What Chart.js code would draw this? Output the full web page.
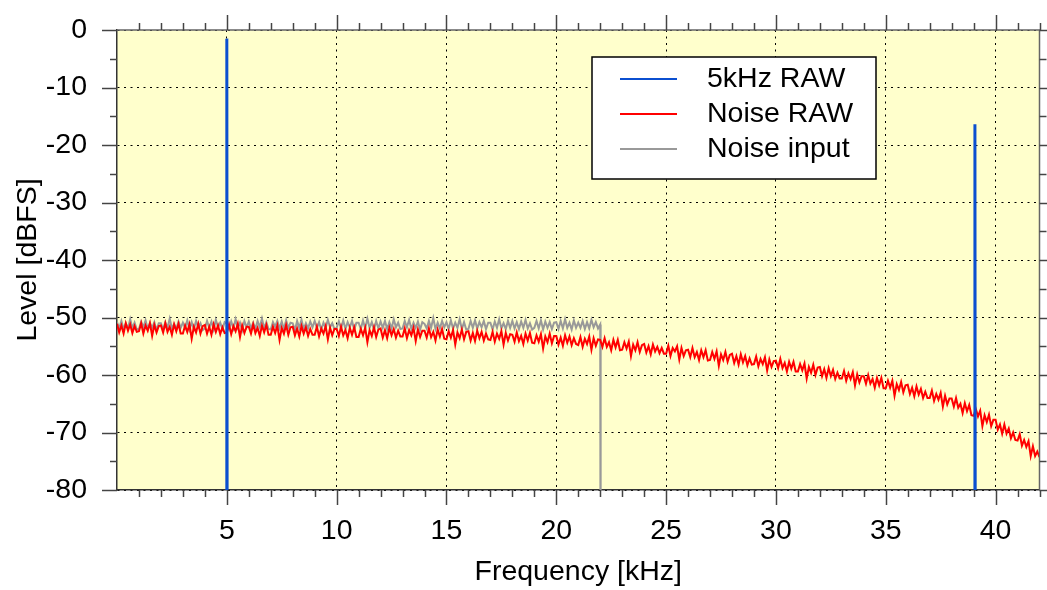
<!DOCTYPE html>
<html>
<head>
<meta charset="utf-8">
<title>Level vs Frequency</title>
<script src="https://cdn.jsdelivr.net/npm/chart.js@4.4.0/dist/chart.umd.min.js"></script>
<style>
body{margin:0;background:#fff;}
#wrap{width:1047px;height:590px;}
</style>
</head>
<body>
<div id="wrap"><canvas id="myChart" width="1047" height="590"></canvas></div>
<script>
// axis ticks
const xTickValues = [5, 10, 15, 20, 25, 30, 35, 40];
const xMinorValues = [1,2,3,4,6,7,8,9,11,12,13,14,16,17,18,19,21,22,23,24,26,27,28,29,31,32,33,34,36,37,38,39,41,42];
const yTickValues = [0, -10, -20, -30, -40, -50, -60, -70, -80];
const yMinorValues = [-5, -15, -25, -35, -45, -55, -65, -75];

// series names
const seriesNames = ['5kHz RAW', 'Noise RAW', 'Noise input'];

// 5kHz RAW: two narrow spikes, floor is below the visible range
const toneFreq = [4.98, 5.0, 5.02, 39.04, 39.06, 39.08];
const toneLevel = [-120, -1.5, -120, -120, -16.4, -120];

// noise curves read every 0.1 kHz starting at 0 kHz (one row = 1 kHz)
const noiseStep = 0.1;
const noiseRaw = [
 -51.1, -52.6, -51.4, -52.8, -51.0, -52.3, -51.2, -52.7, -51.5, -52.5,
 -52.4, -51.0, -52.8, -51.4, -52.3, -51.0, -53.2, -51.3, -52.6, -51.5,
 -51.4, -52.6, -51.0, -52.5, -51.6, -53.0, -51.2, -52.4, -51.1, -52.8,
 -52.8, -51.4, -52.5, -51.2, -53.7, -51.6, -52.6, -51.1, -52.8, -51.5,
 -51.3, -52.8, -51.6, -53.0, -51.2, -52.5, -51.4, -52.9, -51.7, -52.7,
 -52.6, -51.2, -52.9, -51.5, -52.4, -51.1, -53.4, -51.4, -52.7, -51.6,
 -51.6, -52.8, -51.2, -52.7, -51.8, -53.2, -51.4, -52.6, -51.3, -53.0,
 -53.0, -51.6, -52.7, -51.4, -53.9, -51.8, -52.8, -51.3, -53.0, -51.7,
 -51.6, -53.1, -51.9, -53.3, -51.5, -52.8, -51.7, -53.2, -52.0, -53.0,
 -53.0, -51.6, -53.3, -51.9, -52.8, -51.5, -53.8, -51.8, -53.1, -52.0,
 -52.0, -53.2, -51.6, -53.1, -52.2, -53.6, -51.8, -53.0, -51.7, -53.4,
 -53.4, -52.0, -53.1, -51.8, -54.3, -52.2, -53.2, -51.7, -53.4, -52.1,
 -51.9, -53.5, -52.2, -53.6, -51.8, -53.1, -52.0, -53.5, -52.3, -53.3,
 -53.3, -51.9, -53.6, -52.2, -53.1, -51.8, -54.1, -52.1, -53.4, -52.3,
 -52.3, -53.5, -51.9, -53.4, -52.5, -54.0, -52.1, -53.3, -52.0, -53.7,
 -53.8, -52.4, -53.5, -52.2, -54.7, -52.6, -53.6, -52.1, -53.8, -52.5,
 -52.4, -54.0, -52.7, -54.1, -52.3, -53.6, -52.5, -54.0, -52.8, -53.8,
 -53.9, -52.5, -54.2, -52.8, -53.7, -52.4, -54.7, -52.7, -54.0, -52.9,
 -53.0, -54.2, -52.6, -54.1, -53.2, -54.6, -52.8, -54.0, -52.7, -54.4,
 -54.5, -53.1, -54.2, -52.9, -55.4, -53.3, -54.3, -52.8, -54.5, -53.2,
 -53.2, -54.7, -53.5, -54.9, -53.1, -54.4, -53.3, -54.8, -53.6, -54.6,
 -54.8, -53.4, -55.1, -53.7, -54.6, -53.3, -55.6, -53.6, -54.9, -53.8,
 -53.9, -55.1, -53.6, -55.1, -54.3, -55.7, -53.9, -55.2, -53.9, -55.7,
 -55.6, -54.3, -55.4, -54.2, -56.7, -54.7, -55.7, -54.3, -56.0, -54.8,
 -54.6, -56.1, -55.0, -56.4, -54.7, -55.9, -55.1, -56.2, -55.3, -56.3,
 -56.3, -54.9, -56.7, -55.3, -55.9, -55.0, -57.3, -55.3, -56.7, -55.7,
 -55.6, -56.9, -55.3, -56.9, -56.0, -57.4, -55.7, -56.9, -55.7, -57.5,
 -57.4, -56.0, -57.2, -55.9, -58.4, -56.4, -57.4, -56.0, -57.7, -56.5,
 -56.3, -57.9, -56.7, -58.2, -56.4, -57.8, -56.7, -58.3, -57.1, -58.2,
 -58.1, -56.8, -58.5, -57.2, -58.1, -56.9, -59.2, -57.3, -58.6, -57.6,
 -57.5, -58.8, -57.2, -58.8, -57.9, -59.4, -57.7, -58.9, -57.7, -59.4,
 -59.4, -58.1, -59.2, -58.0, -60.6, -58.6, -59.6, -58.2, -60.0, -58.7,
 -58.6, -60.2, -59.0, -60.5, -58.8, -60.2, -59.1, -60.7, -59.6, -60.6,
 -60.6, -59.3, -61.0, -59.7, -60.7, -59.5, -61.8, -59.9, -61.3, -60.2,
 -60.2, -61.5, -60.0, -61.5, -60.7, -62.2, -60.5, -61.8, -60.5, -62.3,
 -62.3, -61.0, -62.2, -61.0, -63.6, -61.6, -62.6, -61.2, -63.0, -61.8,
 -61.7, -63.3, -62.2, -63.7, -62.0, -63.4, -62.4, -64.0, -62.9, -64.0,
 -64.0, -62.7, -64.5, -63.3, -64.3, -63.1, -65.5, -63.6, -65.1, -64.1,
 -64.1, -65.5, -64.0, -65.7, -65.0, -66.6, -64.9, -66.3, -65.2, -67.0,
 -67.1, -65.9, -67.2, -66.2, -68.9, -67.0, -68.2, -66.9, -68.9, -67.8,
 -67.8, -69.5, -68.6, -70.2, -68.6, -70.2, -69.3, -71.0, -70.0, -71.3,
 -71.4, -70.3, -72.3, -71.3, -72.5, -71.5, -74.1, -72.4, -74.1, -73.3,
 -74.3
];
const noiseInput = [
 -50.8, -51.9, -50.6, -52.0, -51.0, -51.9, -50.3, -51.8, -50.9, -52.1,
 -52.0, -50.7, -51.7, -50.5, -52.0, -50.9, -51.8, -50.8, -52.2, -51.0,
 -51.0, -52.1, -50.8, -51.8, -50.2, -51.9, -51.1, -52.0, -50.7, -51.8,
 -50.9, -51.8, -50.5, -52.1, -50.8, -52.0, -50.6, -51.7, -51.0, -52.2,
 -51.9, -50.6, -51.8, -50.7, -52.1, -50.4, -51.7, -50.9, -52.0, -50.8,
 -51.1, -52.0, -50.7, -51.9, -50.3, -51.8, -50.9, -52.2, -50.6, -51.7,
 -50.7, -51.9, -50.9, -52.0, -50.6, -51.7, -50.2, -51.9, -50.8, -52.0,
 -52.1, -50.8, -51.6, -50.6, -51.9, -50.7, -52.0, -50.5, -51.8, -50.9,
 -51.0, -52.2, -50.6, -51.8, -50.4, -52.0, -51.0, -51.9, -50.7, -51.7,
 -50.6, -51.8, -50.8, -52.1, -50.9, -51.8, -50.4, -51.7, -51.0, -52.0,
 -51.8, -50.7, -51.9, -50.5, -52.0, -50.8, -51.7, -50.6, -52.1, -50.9,
 -50.9, -52.0, -50.5, -51.9, -50.2, -51.8, -50.8, -52.1, -50.6, -51.9,
 -50.7, -51.8, -50.6, -52.0, -50.8, -51.9, -50.3, -51.7, -50.9, -52.0,
 -51.9, -50.6, -51.7, -50.4, -52.0, -50.9, -51.8, -50.7, -52.1, -50.8,
 -51.1, -51.9, -50.6, -51.8, -50.1, -52.0, -50.9, -51.9, -50.6, -51.7,
 -50.8, -52.0, -50.5, -51.9, -50.9, -51.8, -50.3, -52.0, -50.8, -52.1,
 -52.0, -50.6, -51.8, -50.5, -51.9, -50.8, -51.7, -50.6, -52.0, -50.9,
 -50.9, -52.1, -50.7, -51.8, -50.3, -51.9, -51.0, -52.0, -50.6, -51.8,
 -50.6, -51.9, -50.8, -52.0, -50.7, -51.8, -50.4, -51.9, -51.0, -52.1,
 -51.8, -50.6, -51.9, -50.5, -52.1, -50.7, -51.8, -50.8, -52.0, -50.9,
 -50.8, -52.0, -50.6, -51.9, -50.3, -51.8, -50.9, -52.1, -50.5, -51.8,
 -50.9, -51.8, -50.6, -52.0, -50.8, -51.9, -50.4, -51.7, -50.8, -51.9,
 -51.2
];
// input noise is cut off just after 22 kHz
const inputCutFreq = [22.02];
const inputCutLevel = [-120];

const fontFamily = '"Liberation Sans", Arial, sans-serif';

function toPoints(freqs, levels) {
  var pts = [];
  for (var i = 0; i < levels.length; i++) {
    pts.push({x: freqs[i], y: levels[i]});
  }
  return pts;
}
function stepPoints(levels) {
  var pts = [];
  for (var i = 0; i < levels.length; i++) {
    pts.push({x: +(i * noiseStep).toFixed(2), y: levels[i]});
  }
  return pts;
}

var inputPts = stepPoints(noiseInput).concat(toPoints(inputCutFreq, inputCutLevel));

// yellow plot background
const plotBg = {
  id: 'plotBg',
  beforeDraw(chart) {
    const {ctx, chartArea: a} = chart;
    ctx.save();
    ctx.fillStyle = '#ffffcc';
    ctx.fillRect(a.left, a.top, a.right - a.left, a.bottom - a.top);
    ctx.restore();
  }
};

// outward ticks on all four sides plus top/right frame
const frameTicks = {
  id: 'frameTicks',
  afterDraw(chart) {
    const {ctx, chartArea: a} = chart;
    const x = chart.scales.x, y = chart.scales.y;
    ctx.save();
    ctx.lineWidth = 1.5;
    ctx.strokeStyle = '#666';
    ctx.beginPath();
    ctx.moveTo(a.left, a.top); ctx.lineTo(a.right, a.top); ctx.lineTo(a.right, a.bottom);
    ctx.stroke();
    ctx.strokeStyle = '#444';
    function seg(x1, y1, x2, y2) { ctx.beginPath(); ctx.moveTo(x1, y1); ctx.lineTo(x2, y2); ctx.stroke(); }
    xTickValues.forEach(function(v) {
      var p = Math.round(x.getPixelForValue(v)) + 0.5;
      seg(p, a.bottom, p, a.bottom + 15);
      seg(p, a.top, p, a.top - 15);
    });
    xMinorValues.forEach(function(v) {
      var p = Math.round(x.getPixelForValue(v)) + 0.5;
      seg(p, a.bottom, p, a.bottom + 7);
      seg(p, a.top, p, a.top - 7);
    });
    yTickValues.forEach(function(v) {
      var p = Math.round(y.getPixelForValue(v)) + 0.5;
      seg(a.left - 15, p, a.left, p);
      seg(a.right, p, a.right + 15, p);
    });
    yMinorValues.forEach(function(v) {
      var p = Math.round(y.getPixelForValue(v)) + 0.5;
      seg(a.left - 7, p, a.left, p);
      seg(a.right, p, a.right + 7, p);
    });
    ctx.restore();
  }
};

// boxed legend inside the plot, upper right
const boxLegend = {
  id: 'boxLegend',
  afterDraw(chart) {
    const ctx = chart.ctx;
    const bx = 592, by = 57, bw = 284, bh = 122;
    ctx.save();
    ctx.fillStyle = '#ffffff';
    ctx.fillRect(bx, by, bw, bh);
    ctx.strokeStyle = '#000';
    ctx.lineWidth = 1.5;
    ctx.strokeRect(bx, by, bw, bh);
    ctx.font = '28.5px ' + fontFamily;
    ctx.textBaseline = 'middle';
    ctx.fillStyle = '#000';
    chart.data.datasets.forEach(function(ds, i) {
      var ly = 79 + i * 35;
      ctx.strokeStyle = ds.borderColor;
      ctx.lineWidth = 2;
      ctx.beginPath(); ctx.moveTo(620, ly); ctx.lineTo(677, ly); ctx.stroke();
      ctx.fillText(ds.label, 707, ly);
    });
    ctx.restore();
  }
};

var ctx = document.getElementById('myChart').getContext('2d');
var myChart = new Chart(ctx, {
  type: 'line',
  data: {
    datasets: [{
      label: seriesNames[0],
      data: toPoints(toneFreq, toneLevel),
      borderColor: '#0b4fd0',
      borderWidth: 3
    }, {
      label: seriesNames[1],
      data: stepPoints(noiseRaw),
      borderColor: '#ff0000',
      borderWidth: 2
    }, {
      label: seriesNames[2],
      data: inputPts,
      borderColor: '#999999',
      borderWidth: 2
    }]
  },
  options: {
    responsive: false,
    animation: false,
    devicePixelRatio: 1,
    elements: { point: { radius: 0 }, line: { tension: 0 } },
    layout: { padding: { top: 30, right: 7.5, left: 0, bottom: 0 } },
    plugins: { legend: { display: false }, tooltip: { enabled: false } },
    scales: {
      x: {
        type: 'linear',
        min: 0,
        max: 42,
        afterBuildTicks: function(s) { s.ticks = xTickValues.map(function(v) { return {value: v}; }); },
        afterFit: function(s) { s.height = 100; },
        grid: { color: '#000', lineWidth: 1, drawTicks: true, tickLength: 22, tickColor: 'rgba(0,0,0,0)' },
        border: { display: true, color: '#333', width: 1.5, dash: [2, 4.5] },
        ticks: { color: '#000', padding: 2, maxRotation: 0, font: { family: fontFamily, size: 28.5 } },
        title: { display: true, text: 'Frequency [kHz]', color: '#000', padding: { top: 0, bottom: 1 },
          font: { family: fontFamily, size: 28.5 } }
      },
      y: {
        min: -80,
        max: 0,
        afterBuildTicks: function(s) { s.ticks = yTickValues.map(function(v) { return {value: v}; }); },
        afterFit: function(s) { s.width = 117; },
        grid: { color: '#000', lineWidth: 1, drawTicks: true, tickLength: 28, tickColor: 'rgba(0,0,0,0)' },
        border: { display: true, color: '#333', width: 1.5, dash: [2, 4.5] },
        ticks: { color: '#000', padding: 2, font: { family: fontFamily, size: 28.5 } },
        title: { display: true, text: 'Level [dBFS]', color: '#000', padding: { top: 11, bottom: 0 },
          font: { family: fontFamily, size: 28.5 } }
      }
    }
  },
  plugins: [plotBg, frameTicks, boxLegend]
});
</script>
</body>
</html>
